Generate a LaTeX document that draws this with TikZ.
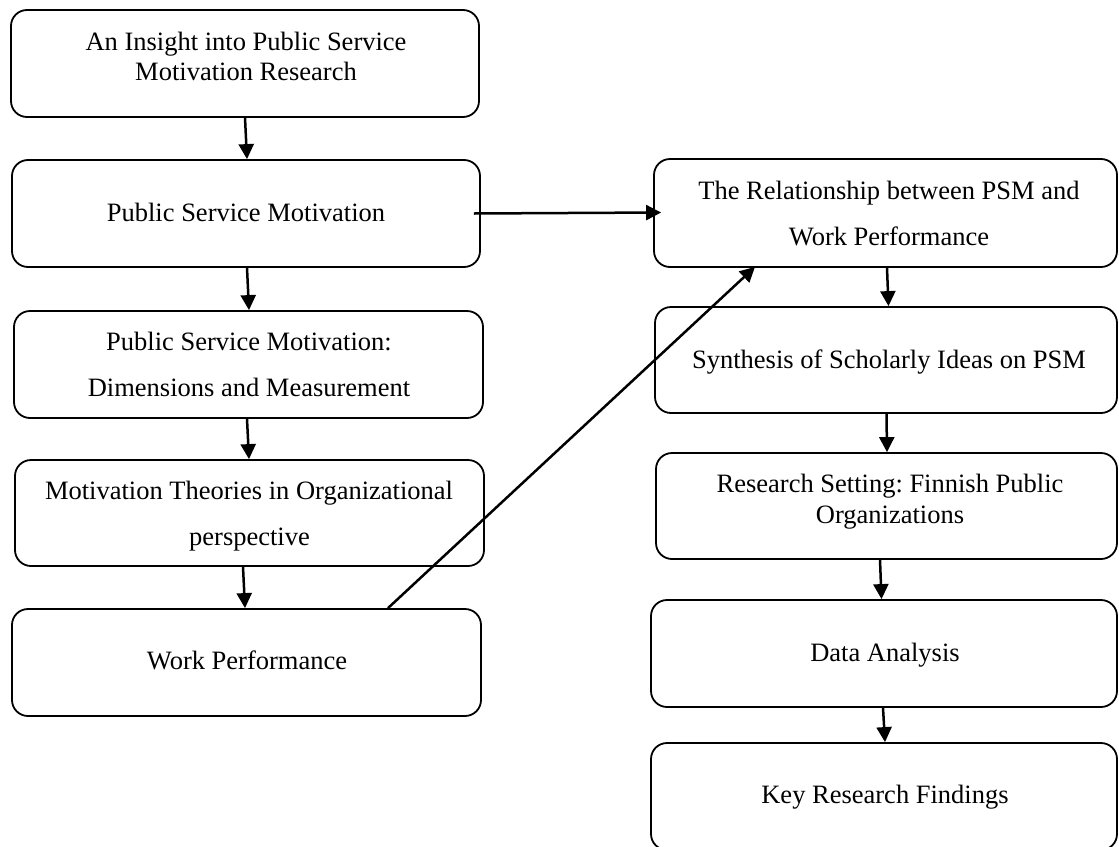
\documentclass[tikz,border=0pt]{standalone}
\usepackage{fontspec}
\setmainfont{Liberation Serif}
\usetikzlibrary{arrows.meta}
\frenchspacing
\begin{document}
\begin{tikzpicture}[x=1pt,y=-1pt,
  box/.style={draw, line width=1.8pt, rounded corners=16pt, inner sep=0pt},
  txt/.style={inner sep=0pt, anchor=base, font=\frenchspacing\fontsize{26.5}{30}\selectfont},
  arr/.style={line width=2.5pt, -{Triangle[length=15pt,width=15pt]}}]
\useasboundingbox (0,0) rectangle (1119,846);
% left column
\node[box, minimum width=468pt, minimum height=107pt] (b1) at (245,63.5) {};
\node[box, minimum width=468pt, minimum height=107pt] (b2) at (246,213.5) {};
\node[box, minimum width=469pt, minimum height=107pt] (b3) at (248.5,364.5) {};
\node[box, minimum width=469pt, minimum height=106pt] (b4) at (249.5,513) {};
\node[box, minimum width=469pt, minimum height=107pt] (b5) at (246.5,662.5) {};
% right column
\node[box, minimum width=463pt, minimum height=108pt] (r1) at (885.5,213) {};
\node[box, minimum width=462pt, minimum height=106pt] (r2) at (886,360) {};
\node[box, minimum width=461pt, minimum height=106pt] (r3) at (886.5,506) {};
\node[box, minimum width=466pt, minimum height=107pt] (r4) at (884,653.5) {};
\node[box, minimum width=466pt, minimum height=107pt] (r5) at (884,796.5) {};
% texts
\node[txt] (t1a) at (246,50) {An Insight into Public Service};
\node[txt] (t1b) at (246,80) {Motivation Research};
\node[txt] (t2) at (246,221) {Public Service Motivation};
\node[txt] (t3a) at (249,350) {Public Service Motivation:};
\node[txt] (t3b) at (249,396) {Dimensions and Measurement};
\node[txt] (t4a) at (249,499) {Motivation Theories in Organizational};
\node[txt] (t4b) at (249.5,545) {perspective};
\node[txt] (t5) at (247,669) {Work Performance};
\node[txt] (u1a) at (889,199) {The Relationship between PSM and};
\node[txt] (u1b) at (889,245) {Work Performance};
\node[txt] (u2) at (889,368) {Synthesis of Scholarly Ideas on PSM};
\node[txt] (u3a) at (890,492) {Research Setting: Finnish Public};
\node[txt] (u3b) at (890,523) {Organizations};
\node[txt] (u4) at (885,661) {Data Analysis};
\node[txt] (u5) at (885,803) {Key Research Findings};
% connectors
\draw[arr] (b1.south) -- ([xshift=1pt]b2.north);
\draw[arr] ([xshift=1pt]b2.south) -- ([xshift=0.5pt]b3.north);
\draw[arr] ([xshift=-1.5pt]b3.south) -- ([xshift=-0.5pt]b4.north);
\draw[arr] ([xshift=-6.5pt]b4.south) -- ([xshift=-1.5pt]b5.north);
\draw[arr] ([xshift=-7pt]b2.east) -- ([xshift=8pt,yshift=0.5pt]r1.west);
\draw[arr] ([xshift=141.5pt]b5.north) -- ([xshift=-130.5pt,yshift=1pt]r1.south);
\draw[arr] ([xshift=1.5pt]r1.south) -- ([xshift=2.5pt]r2.north);
\draw[arr] ([xshift=0.5pt]r2.south) -- ([xshift=0.5pt]r3.north);
\draw[arr] ([xshift=-6.5pt]r3.south) -- ([xshift=-2.5pt]r4.north);
\draw[arr] ([xshift=-1pt]r4.south) -- ([xshift=1pt]r5.north);
\end{tikzpicture}
\end{document}
